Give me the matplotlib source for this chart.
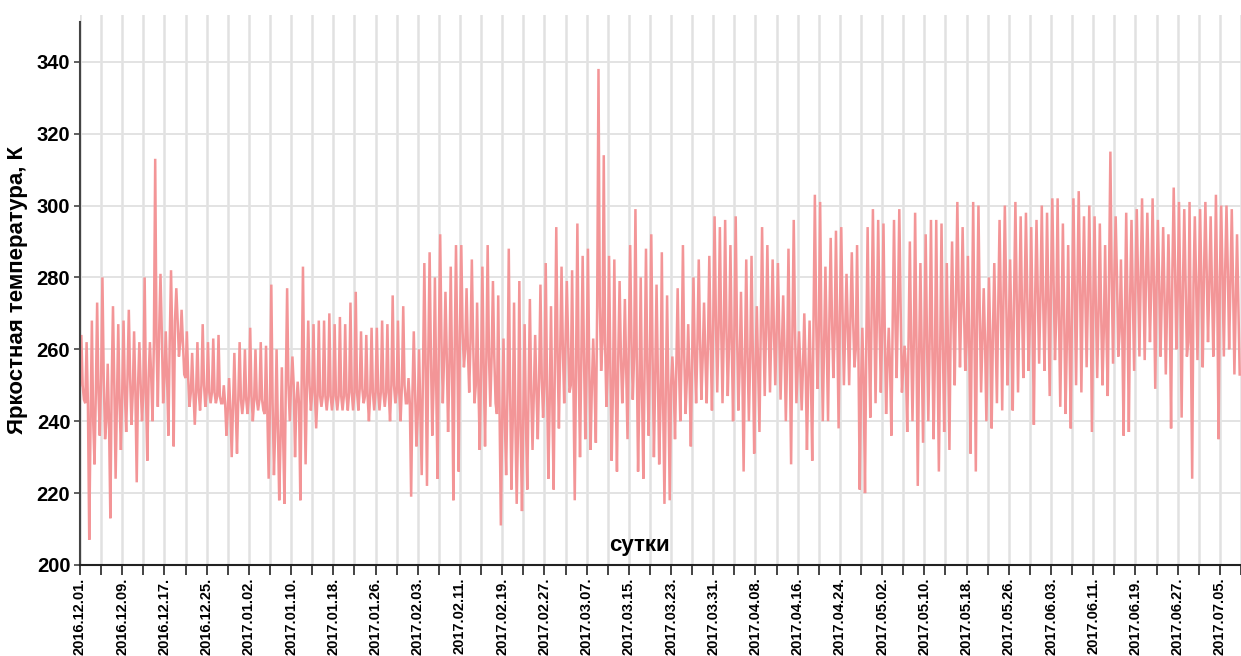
import numpy as np
import pandas as pd
import matplotlib
matplotlib.use("Agg")
import matplotlib.pyplot as plt
import matplotlib.dates as mdates


# =========================
# DATA (one value per day starting 2016-12-01)
# =========================
START = "2016-12-01"

# daily upper spikes, K
day_high = [
    264, 262, 268, 273, 280, 256, 272, 267, 268, 271,
    265, 262, 280, 262, 313, 281, 265, 282, 277, 271,
    265, 259, 262, 267, 262, 263, 264, 250, 252, 259,
    262, 260, 266, 260, 262, 261, 278, 260, 255, 277,
    258, 251, 283, 268, 267, 268, 268, 270, 267, 269,
    267, 273, 276, 265, 264, 266, 266, 268, 267, 275,
    268, 272, 252, 265, 260, 284, 287, 280, 292, 276,
    283, 289, 289, 277, 285, 273, 283, 289, 279, 275,
    263, 288, 273, 279, 267, 274, 264, 278, 284, 272,
    294, 283, 279, 282, 295, 286, 288, 263, 338, 314,
    286, 285, 279, 274, 289, 299, 280, 288, 292, 278,
    287, 275, 258, 277, 289, 267, 280, 285, 273, 286,
    297, 294, 296, 289, 297, 276, 285, 286, 272, 294,
    289, 285, 284, 275, 288, 296, 265, 270, 268, 303,
    301, 283, 291, 293, 294, 281, 287, 289, 266, 294,
    299, 296, 295, 266, 296, 299, 261, 290, 298, 284,
    292, 296, 296, 295, 284, 290, 301, 294, 286, 301,
    300, 277, 280, 284, 296, 300, 285, 301, 297, 298,
    294, 296, 300, 298, 302, 302, 295, 289, 302, 304,
    297, 300, 297, 295, 289, 315, 297, 285, 298, 296,
    299, 302, 298, 302, 296, 294, 292, 305, 301, 299,
    301, 297, 299, 301, 297, 303, 300, 300, 299, 292,
]

# daily lower spikes, K
day_low = [
    246, 207, 228, 236, 235, 213, 224, 232, 237, 239,
    223, 240, 229, 240, 244, 245, 236, 233, 258, 253,
    244, 239, 243, 244, 245, 245, 245, 236, 230, 231,
    242, 242, 240, 243, 243, 224, 225, 218, 217, 240,
    230, 218, 228, 243, 238, 244, 243, 243, 243, 243,
    243, 243, 243, 245, 240, 243, 243, 244, 240, 245,
    240, 245, 219, 233, 225, 222, 236, 224, 245, 237,
    218, 226, 255, 248, 245, 232, 233, 244, 245, 211,
    225, 221, 217, 215, 221, 232, 235, 241, 224, 221,
    238, 245, 248, 218, 230, 235, 232, 234, 254, 244,
    229, 226, 245, 235, 246, 226, 224, 236, 230, 228,
    217, 218, 235, 240, 242, 233, 245, 246, 245, 243,
    248, 245, 247, 240, 243, 226, 240, 231, 237, 247,
    248, 250, 246, 240, 228, 245, 243, 232, 229, 249,
    240, 240, 252, 238, 250, 250, 255, 221, 220, 241,
    245, 248, 242, 236, 252, 248, 237, 240, 222, 234,
    240, 235, 226, 237, 232, 250, 255, 254, 231, 226,
    248, 240, 238, 245, 243, 250, 243, 248, 252, 254,
    239, 256, 254, 247, 257, 244, 242, 238, 250, 248,
    255, 237, 252, 250, 247, 256, 258, 236, 237, 254,
    258, 257, 262, 249, 258, 253, 238, 260, 241, 258,
    224, 257, 255, 262, 258, 235, 258, 260, 253, 253,
]

# typical level between spikes, K
day_base = [
    250, 245, 240, 248, 252, 240, 250, 245, 248, 252,
    248, 250, 248, 252, 262, 265, 252, 262, 268, 262,
    252, 248, 248, 250, 248, 248, 247, 245, 243, 244,
    246, 246, 247, 246, 246, 242, 245, 238, 235, 250,
    250, 245, 250, 250, 248, 247, 247, 247, 247, 247,
    247, 248, 248, 249, 247, 248, 248, 248, 248, 250,
    248, 250, 245, 248, 242, 255, 258, 250, 262, 258,
    255, 260, 265, 260, 262, 250, 255, 258, 258, 242,
    240, 248, 240, 238, 240, 248, 248, 252, 250, 245,
    258, 260, 262, 250, 255, 258, 255, 250, 272, 262,
    255, 250, 258, 255, 262, 258, 248, 255, 258, 252,
    245, 248, 250, 255, 258, 252, 258, 262, 258, 262,
    268, 266, 265, 262, 265, 255, 258, 258, 255, 265,
    266, 265, 265, 260, 258, 265, 255, 255, 252, 268,
    265, 262, 268, 265, 270, 265, 268, 260, 250, 262,
    270, 268, 265, 255, 268, 272, 255, 262, 262, 258,
    262, 262, 258, 262, 258, 268, 275, 272, 262, 265,
    270, 262, 262, 265, 272, 275, 265, 275, 272, 275,
    268, 275, 275, 272, 278, 270, 268, 262, 275, 278,
    275, 275, 272, 270, 265, 280, 280, 265, 270, 275,
    278, 280, 280, 278, 278, 275, 272, 282, 275, 278,
    262, 278, 278, 282, 278, 275, 280, 282, 278, 272,
]

Y_TICKS = [200, 220, 240, 260, 280, 300, 320, 340]


# =========================
# Build the series: base -> high -> base -> low inside each day
# =========================
n_days = len(day_high)
values = np.column_stack([day_base, day_high, day_base, day_low]).ravel()
offsets = np.tile([0.0, 0.25, 0.5, 0.75], n_days) + np.repeat(np.arange(n_days), 4)
times = pd.Timestamp(START) + pd.to_timedelta(offsets, unit="D")

major_ticks = pd.date_range(START, periods=28, freq="8D")
minor_ticks = pd.date_range(START, periods=56, freq="4D")


# =========================
# Plot
# =========================
plt.rcParams["font.family"] = ["Liberation Sans", "DejaVu Sans"]
plt.rcParams["font.weight"] = "bold"
plt.rcParams["axes.labelweight"] = "bold"

fig = plt.figure(figsize=(12.41, 6.56), dpi=100)
ax = fig.add_axes([80 / 1241, (656 - 565) / 656, 1 - 80 / 1241, (565 - 15) / 656])

ax.plot(times, values, color="#f39597", linewidth=1.8, solid_joinstyle="miter")

ax.set_xlim(pd.Timestamp(START), pd.Timestamp(START) + pd.Timedelta(days=219.6))
ax.set_ylim(200, 353)

ax.set_yticks(Y_TICKS)
ax.set_xticks(major_ticks)
ax.set_xticks(minor_ticks, minor=True)
ax.xaxis.set_major_formatter(mdates.DateFormatter("%Y.%m.%d."))

ax.grid(axis="y", color="#e3e3e3", linewidth=1.4)
ax.grid(axis="x", which="both", color="#e1e1e1", linewidth=1.8)
ax.set_axisbelow(True)

ax.tick_params(axis="x", which="both", length=7, width=1.2, color="#222222", pad=2)
ax.tick_params(axis="x", which="major", labelsize=10.5, labelrotation=90)
ax.tick_params(axis="y", length=4, width=1.2, color="#444444", pad=3, labelsize=14.5)

ax.spines["top"].set_visible(False)
ax.spines["right"].set_visible(False)
ax.spines["left"].set_color("#444444")
ax.spines["left"].set_linewidth(1.5)
ax.spines["left"].set_bounds(200, 351)
ax.spines["bottom"].set_color("#222222")
ax.spines["bottom"].set_linewidth(1.5)

ax.set_ylabel("Яркостная температура, К", fontsize=16, fontweight="bold", labelpad=6)
ax.text(0.482, 0.036, "сутки", transform=ax.transAxes, ha="center", va="center",
        fontsize=16, fontweight="bold")

fig.savefig("out.png", dpi=100)
